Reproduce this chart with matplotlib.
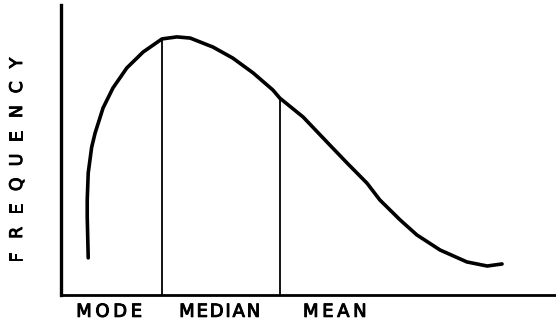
import matplotlib
matplotlib.use("Agg")
import matplotlib.pyplot as plt
import matplotlib.transforms as mtransforms
import matplotlib.patheffects as pe

# Skewed frequency curve (arbitrary units: x 0-100, frequency 0-100)
curve_x = [5.5, 5.3, 5.3, 5.5, 6.2, 6.9, 8.5, 10.5, 13.3, 16.6, 20.4, 23.4,
           26.1, 30.7, 34.7, 38.8, 42.8, 44.2, 48.9, 53.7, 57.8, 61.8, 64.4,
           68.5, 71.9, 76.6, 82.0, 86.1, 89.1]
curve_y = [12.8, 26.9, 32.8, 42.1, 51.0, 55.9, 64.5, 71.4, 78.3, 83.8, 88.3, 89.0,
           88.6, 85.5, 81.7, 76.6, 70.7, 67.9, 61.4, 52.8, 45.5, 38.6, 32.8,
           25.9, 20.7, 15.5, 11.4, 10.0, 10.7]

# vertical marker lines (x position, height where they meet the curve)
marker_x = [20.4, 44.2]
marker_top = [88.3, 67.9]

# axis labels under the x-axis
labels = ["M\u2009O\u2009D\u2009E", "M\u200aE\u200aD\u200aI\u200aA\u200aN",
          "M\u2009E\u2009A\u2009N"]
label_x = [9.7, 32.0, 55.3]
ylabel = "FREQUENCY"

fig = plt.figure(figsize=(5.56, 3.25), dpi=100)
ax = fig.add_axes([0.1097, 0.0923, 0.8903, 0.8923])
ax.set_xlim(0, 100)
ax.set_ylim(0, 100)

ax.plot(curve_x, curve_y, color="black", lw=2.6, solid_capstyle="round",
        solid_joinstyle="round")
ax.vlines(marker_x, 0, marker_top, color="black", lw=1.3)

for s in ["top", "right"]:
    ax.spines[s].set_visible(False)
ax.spines["left"].set_linewidth(2.4)
ax.spines["bottom"].set_linewidth(2.0)
ax.set_xticks([])
ax.set_yticks([])

thick = [pe.withStroke(linewidth=0.7, foreground="black")]

trans = mtransforms.blended_transform_factory(ax.transData, ax.transAxes)
for lab, x in zip(labels, label_x):
    ax.text(x, -0.058, lab, transform=trans, ha="center", va="center",
            fontsize=13, color="black", clip_on=False, path_effects=thick)

# vertical, letter-spaced y label
n = len(ylabel)
y_bottom, y_top = 257 / 325, 63 / 325
for i, ch in enumerate(ylabel):
    frac = i / (n - 1)
    ypix = y_bottom + (y_top - y_bottom) * frac
    fig.text(17 / 556, 1 - ypix, ch, rotation=90, ha="center", va="center",
             fontsize=12.5, color="black", path_effects=thick)

fig.savefig("out.png", dpi=100)
